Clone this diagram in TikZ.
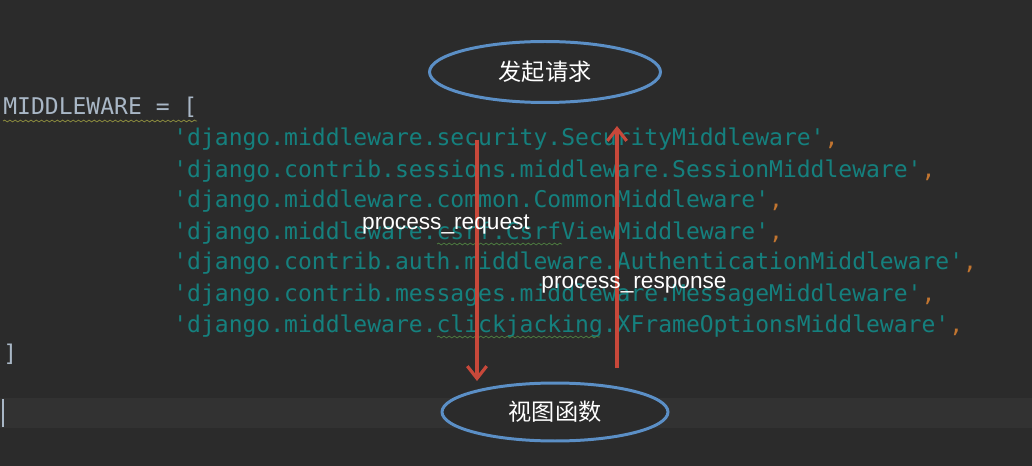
\documentclass[tikz,border=0pt]{standalone}
\usepackage{fontspec}
\usepackage{tikz}
\usetikzlibrary{calc,positioning,shapes.geometric,arrows.meta,decorations.pathmorphing}
\setsansfont{Liberation Sans}
\newfontfamily\codefont{DejaVu Sans Mono}
\newfontfamily\cjkfont{Noto Sans CJK SC}
\definecolor{editorbg}{HTML}{2B2B2B}
\definecolor{curline}{HTML}{323232}
\definecolor{plaintxt}{HTML}{A9B7C6}
\definecolor{strtxt}{HTML}{15807E}
\definecolor{commacol}{HTML}{C27530}
\definecolor{ovalline}{HTML}{5B8FC6}
\definecolor{flowred}{HTML}{C8483A}
\definecolor{typowarn}{HTML}{8A8A3E}
\definecolor{inspwarn}{HTML}{4D7A40}
\tikzset{
  codeline/.style  = {font=\codefont\fontsize{13.1}{15}\selectfont, anchor=base west,
                      inner sep=0pt, text=strtxt},
  stageoval/.style = {ellipse, draw=ovalline, line width=1.7pt, fill=editorbg,
                      minimum width=4.62cm, minimum height=1.22cm, inner sep=0pt,
                      font=\cjkfont\fontsize{13.2}{15}\selectfont, text=white},
  flowarrow/.style = {draw=flowred, line width=1.8pt,
                      -{Straight Barb[length=7pt,width=11pt,line width=1.8pt]}},
  flowlab/.style   = {font=\sffamily\fontsize{12.9}{15}\selectfont, text=white, inner sep=1pt},
  squiggle/.style  = {line width=0.45pt,
                      decorate, decoration={snake, amplitude=0.5pt, segment length=3pt}},
}

\begin{document}
\begin{tikzpicture}[x=0.02cm, y=-0.02cm]

    % ---------- editor background -----------------------------------
    \fill[editorbg] (0,0) rectangle (1032,466);
    \useasboundingbox (0,0) rectangle (1032,466);
    \fill[curline] (0,398) rectangle (1032,428);
    \draw[plaintxt, line width=0.9pt] (3,399) -- (3,427);

    % ---------- the settings list -----------------------------------
    \node[codeline, text=plaintxt] (mwhead) at (3,115) {MIDDLEWARE = [};
    \node[codeline] (mw1) at (173,146)
      {'django.middleware.security.SecurityMiddleware'\textcolor{commacol}{,}};
    \node[codeline] (mw2) at (173,177)
      {'django.contrib.sessions.middleware.SessionMiddleware'\textcolor{commacol}{,}};
    \node[codeline] (mw3) at (173,208)
      {'django.middleware.common.CommonMiddleware'\textcolor{commacol}{,}};
    \node[codeline] (mw4) at (173,239)
      {'django.middleware.csrf.CsrfViewMiddleware'\textcolor{commacol}{,}};
    \node[codeline] (mw5) at (173,270)
      {'django.contrib.auth.middleware.AuthenticationMiddleware'\textcolor{commacol}{,}};
    \node[codeline] (mw6) at (173,301)
      {'django.contrib.messages.middleware.MessageMiddleware'\textcolor{commacol}{,}};
    \node[codeline] (mw7) at (173,332)
      {'django.middleware.clickjacking.XFrameOptionsMiddleware'\textcolor{commacol}{,}};
    \node[codeline, text=plaintxt] (mwtail) at (3,361) {]};

    % wavy inspection marks
    \draw[squiggle, typowarn] (3,121) -- (197,121);
    \draw[squiggle, inspwarn] (437,244) -- (562,244);
    \draw[squiggle, inspwarn] (437,337) -- (600,337);

    % ---------- request / response flow -----------------------------
    \node[stageoval] (start) at (545,72) {发起请求};
    \node[stageoval, minimum width=4.52cm, minimum height=1.16cm] (view) at (555,412) {视图函数};

    \coordinate (reqtop)  at (477,140);
    \coordinate (reqbot)  at (477,381);
    \coordinate (resbot)  at (617,368);
    \coordinate (restop)  at (617,126);

    \draw[flowarrow] (reqtop) -- (reqbot);
    \draw[flowarrow] (resbot) -- (restop);

    \node[flowlab] (reqlab) at (446,225) {process\_request};
    \node[flowlab] (reslab) at (634,285) {process\_response};

\end{tikzpicture}
\end{document}
